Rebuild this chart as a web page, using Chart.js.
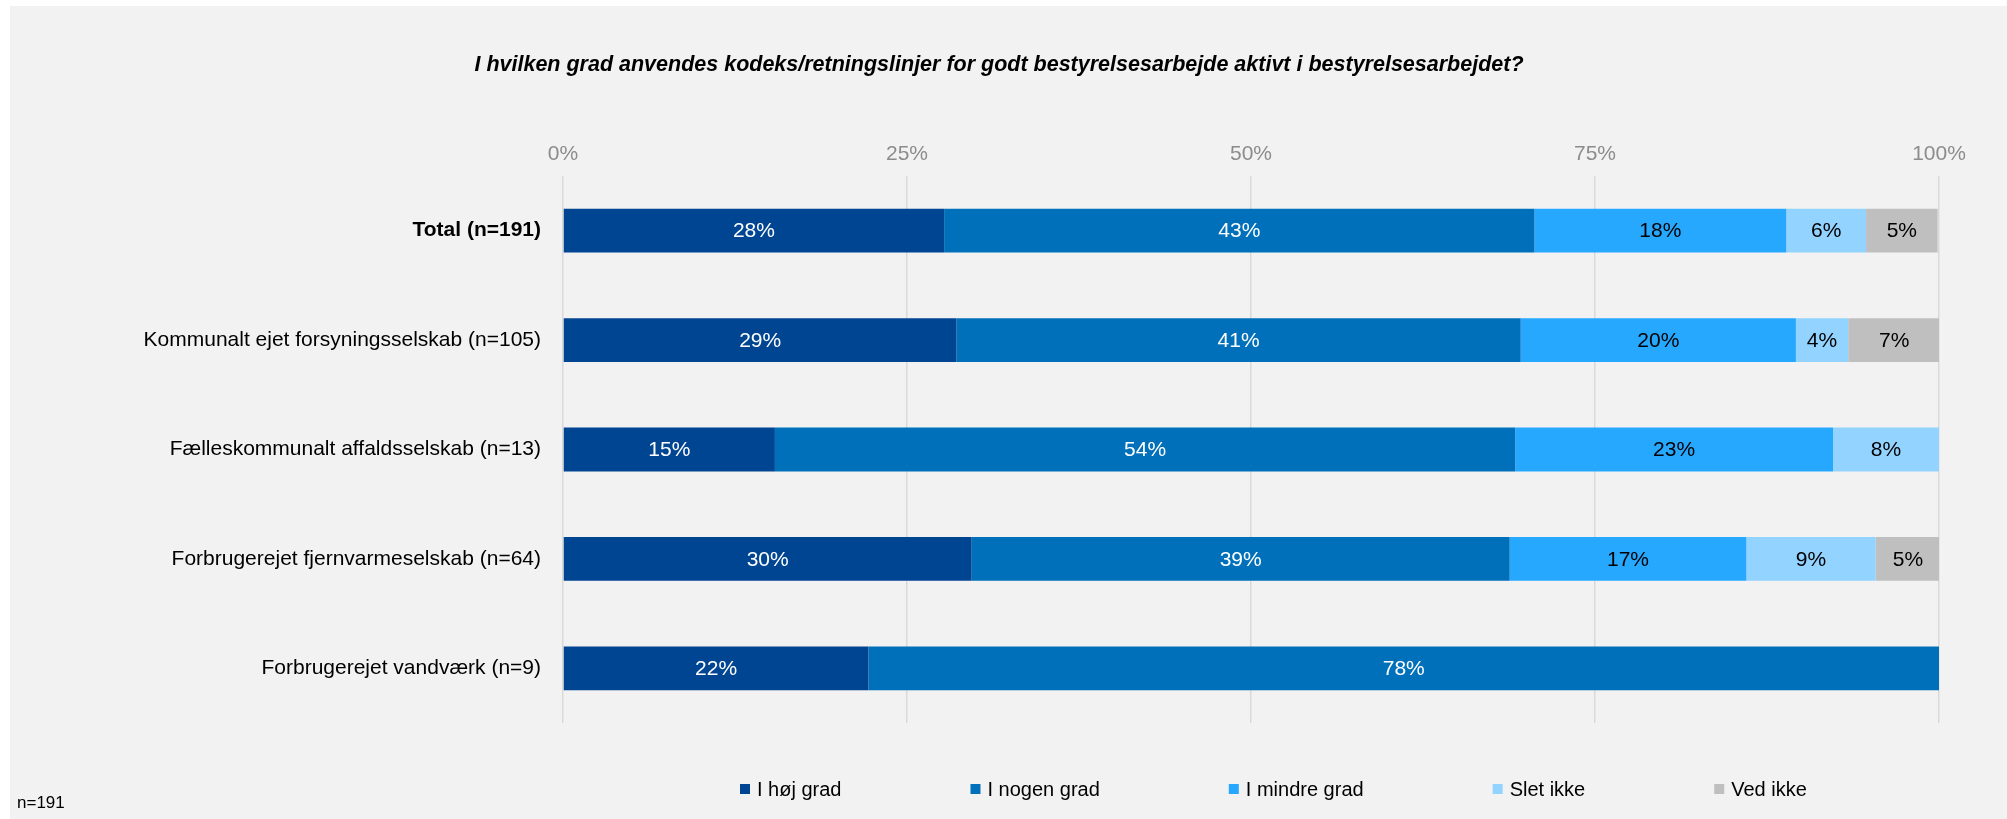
<!DOCTYPE html>
<html>
<head>
<meta charset="utf-8">
<script src="https://cdn.jsdelivr.net/npm/chart.js@4.4.1/dist/chart.umd.min.js"></script>
<style>
  html, body { margin: 0; padding: 0; background: #ffffff; }
  canvas { display: block; }
</style>
</head>
<body>
<canvas id="myChart" width="2007" height="819"></canvas>
<script>
// categories and series (share of answers, %)
var categories = [
    'Total (n=191)',
    'Kommunalt ejet forsyningsselskab (n=105)',
    'Fælleskommunalt affaldsselskab (n=13)',
    'Forbrugerejet fjernvarmeselskab (n=64)',
    'Forbrugerejet vandværk (n=9)'
];
var seriesNames = ['I høj grad', 'I nogen grad', 'I mindre grad', 'Slet ikke', 'Ved ikke'];
var hoejGrad   = [27.7, 28.6, 15.4, 29.7, 22.2];
var nogenGrad  = [42.9, 41.0, 53.8, 39.1, 77.8];
var mindreGrad = [18.3, 20.0, 23.1, 17.2, 0];
var sletIkke   = [5.8, 3.8, 7.7, 9.4, 0];
var vedIkke    = [5.2, 6.7, 0, 4.7, 0];
var xTicks = [0, 25, 50, 75, 100];

var colors = ['#004592', '#0070ba', '#27a8ff', '#93d3ff', '#bfbfbf'];
var labelColors = ['#ffffff', '#ffffff', '#000000', '#000000', '#000000'];
var FONT = "'Liberation Sans', Arial, sans-serif";

Chart.defaults.font.family = FONT;

// grey panel with the thin white edge
var background = {
    id: 'background',
    beforeDraw: function(chart) {
        var ctx = chart.ctx;
        ctx.save();
        ctx.fillStyle = '#ffffff';
        ctx.fillRect(0, 0, chart.width, chart.height);
        ctx.fillStyle = '#f2f2f2';
        ctx.fillRect(10, 6, chart.width - 10, chart.height - 6);
        ctx.restore();
    }
};

// percent labels inside the segments
var barLabels = {
    id: 'barLabels',
    afterDatasetsDraw: function(chart) {
        var ctx = chart.ctx;
        ctx.save();
        ctx.font = '21px ' + FONT;
        ctx.textAlign = 'center';
        ctx.textBaseline = 'middle';
        chart.data.datasets.forEach(function(ds, i) {
            chart.getDatasetMeta(i).data.forEach(function(bar, j) {
                var v = ds.data[j];
                if (!v) return;
                var p = bar.getProps(['x', 'y', 'base'], true);
                ctx.fillStyle = labelColors[i];
                ctx.fillText(Math.round(v) + '%', (p.x + p.base) / 2, p.y + 1);
            });
        });
        ctx.restore();
    }
};

// legend row and footnote
var footer = {
    id: 'footer',
    afterDraw: function(chart) {
        var ctx = chart.ctx;
        ctx.save();
        ctx.font = '20px ' + FONT;
        ctx.textBaseline = 'middle';
        ctx.textAlign = 'left';
        var x = 740, y = 789;
        chart.data.datasets.forEach(function(ds) {
            ctx.fillStyle = ds.backgroundColor;
            ctx.fillRect(x, y - 5, 10, 10);
            ctx.fillStyle = '#000000';
            ctx.fillText(ds.label, x + 17, y + 1);
            x += 17 + ctx.measureText(ds.label).width + 129;
        });
        ctx.font = '17px ' + FONT;
        ctx.fillText('n=191', 17, 803);
        ctx.restore();
    }
};

var seriesData = [hoejGrad, nogenGrad, mindreGrad, sletIkke, vedIkke];

var ctx = document.getElementById('myChart').getContext('2d');
var chart = new Chart(ctx, {
    type: 'bar',
    data: {
        labels: categories,
        datasets: seriesNames.map(function(name, i) {
            return {
                label: name,
                data: seriesData[i],
                backgroundColor: colors[i],
                borderWidth: 0,
                barPercentage: 0.4,
                categoryPercentage: 1.0
            };
        })
    },
    options: {
        indexAxis: 'y',
        responsive: false,
        devicePixelRatio: 1,
        animation: false,
        layout: {
            padding: { left: 59, right: 68, top: 0, bottom: 96 }
        },
        plugins: {
            legend: { display: false },
            tooltip: { enabled: false },
            title: {
                display: true,
                text: 'I hvilken grad anvendes kodeks/retningslinjer for godt bestyrelsesarbejde aktivt i bestyrelsesarbejdet?',
                color: '#000000',
                font: { size: 21.5, weight: 'bold', style: 'italic' },
                padding: { top: 52, bottom: 55 }
            }
        },
        scales: {
            x: {
                position: 'top',
                stacked: true,
                min: 0,
                max: 100,
                afterBuildTicks: function(scale) {
                    scale.ticks = xTicks.map(function(v) { return { value: v }; });
                },
                ticks: {
                    color: '#8c8c8c',
                    font: { size: 21 },
                    padding: 9,
                    callback: function(v) { return v + '%'; }
                },
                grid: { color: '#d9d9d9', lineWidth: 1.5, drawTicks: false },
                border: { display: false }
            },
            y: {
                stacked: true,
                afterFit: function(scale) { scale.width = 504; },
                ticks: {
                    color: '#000000',
                    padding: 22,
                    font: function(c) {
                        return { size: 21, weight: c.index === 0 ? 'bold' : 'normal' };
                    }
                },
                grid: { display: false, drawTicks: false },
                border: { display: false }
            }
        }
    },
    plugins: [background, barLabels, footer]
});
</script>
</body>
</html>
